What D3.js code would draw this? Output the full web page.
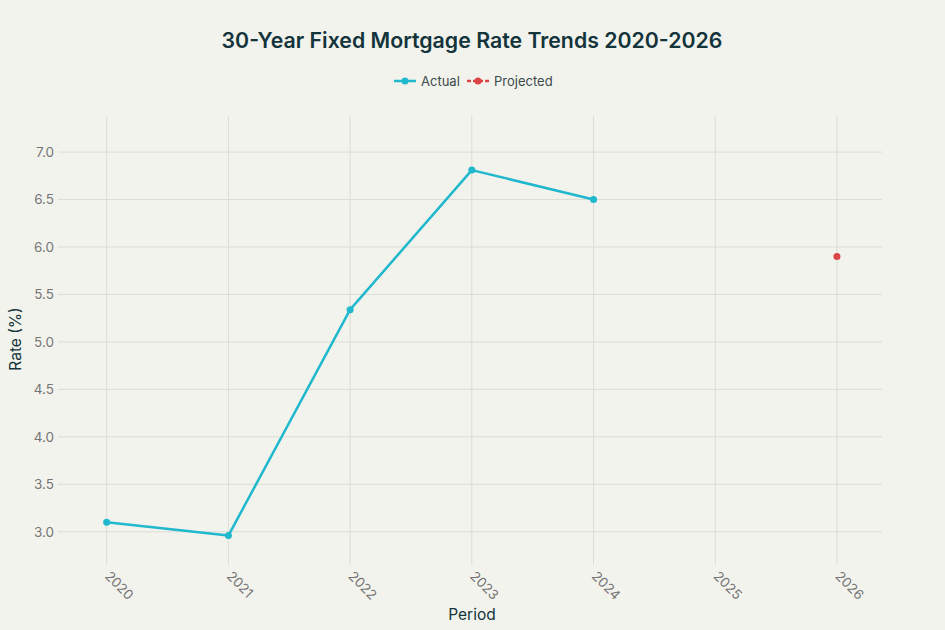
<!DOCTYPE html>
<html><head><meta charset="utf-8">
<script src="https://cdn.jsdelivr.net/npm/d3@7"></script>
<style>
body{margin:0;background:#F3F3EE;}
svg{display:block;font-family:Inter, "Open Sans", sans-serif;}
</style></head>
<body><svg id="c" width="945" height="630"></svg>
<script>
const periods = ["2020","2021","2022","2023","2024","2025","2026"];
const actualValues = [3.10, 2.96, 5.34, 6.81, 6.50, null, null];
const projectedValues = [null, null, null, null, null, null, 5.90];
const yTicks = [3.0, 3.5, 4.0, 4.5, 5.0, 5.5, 6.0, 6.5, 7.0];

const W = 945, H = 630;
const m = {left: 58, right: 63, top: 116, bottom: 65};
const svg = d3.select("#c");
svg.append("rect").attr("width", W).attr("height", H).attr("fill", "#F3F3EE");

const x = d3.scaleLinear().domain([-0.4, periods.length - 1 + 0.37]).range([m.left, W - m.right]);
const y = d3.scaleLinear().domain([2.65, 7.38]).range([H - m.bottom, m.top]);

const g = svg.append("g");
g.selectAll(".vg").data(periods).enter().append("line")
  .attr("x1", (d,i)=>x(i)).attr("x2", (d,i)=>x(i))
  .attr("y1", m.top).attr("y2", H - m.bottom)
  .attr("stroke", "#dcdcd6").attr("stroke-width", 1);
g.selectAll(".hg").data(yTicks).enter().append("line")
  .attr("x1", m.left).attr("x2", W - m.right)
  .attr("y1", d=>y(d)).attr("y2", d=>y(d))
  .attr("stroke", "#dcdcd6").attr("stroke-width", 1);

const yAxis = d3.axisLeft(y).tickValues(yTicks).tickFormat(d3.format(".1f")).tickSize(0).tickPadding(4);
const ya = svg.append("g").attr("transform", `translate(${m.left},0)`).call(yAxis);
ya.select(".domain").remove();
ya.selectAll("text").attr("fill", "#767676").attr("font-size", 13.5).style("font-family", "Inter, sans-serif");

const xAxis = d3.axisBottom(x).tickValues(d3.range(periods.length)).tickFormat(i=>periods[i]).tickSize(0);
const xa = svg.append("g").attr("transform", `translate(0,${H - m.bottom})`).call(xAxis);
xa.select(".domain").remove();
xa.selectAll("text").attr("fill", "#767676").attr("font-size", 13.5).style("font-family", "Inter, sans-serif")
  .attr("text-anchor", "start").attr("dy", null).attr("y", 0)
  .attr("transform", "translate(-3,12) rotate(45)");

const line = d3.line().defined(d=>d!=null).x((d,i)=>x(i)).y(d=>y(d));
svg.append("path").datum(actualValues).attr("d", line)
  .attr("fill", "none").attr("stroke", "#1FB8CD").attr("stroke-width", 2.5).attr("stroke-linejoin", "round");
svg.append("g").selectAll("circle").data(actualValues.map((v,i)=>({v,i})).filter(d=>d.v!=null)).enter()
  .append("circle").attr("cx", d=>x(d.i)).attr("cy", d=>y(d.v)).attr("r", 3.5).attr("fill", "#1FB8CD");
svg.append("path").datum(projectedValues).attr("d", line)
  .attr("fill", "none").attr("stroke", "#DB4545").attr("stroke-width", 2.5).attr("stroke-dasharray", "6,4");
svg.append("g").selectAll("circle").data(projectedValues.map((v,i)=>({v,i})).filter(d=>d.v!=null)).enter()
  .append("circle").attr("cx", d=>x(d.i)).attr("cy", d=>y(d.v)).attr("r", 3.5).attr("fill", "#DB4545");

svg.append("text").attr("x", 472).attr("y", 48).attr("text-anchor", "middle")
  .attr("font-size", 21.3).attr("font-weight", 600).attr("fill", "#13343B")
  .style("font-family", "Inter, sans-serif")
  .text("30-Year Fixed Mortgage Rate Trends 2020-2026");

const leg = svg.append("g").attr("transform", "translate(0,81)");
const items = [{name:"Actual", color:"#1FB8CD", x0:394, dash:null}, {name:"Projected", color:"#DB4545", x0:467, dash:"4,2"}];
items.forEach(it=>{
  leg.append("line").attr("x1", it.x0).attr("x2", it.x0+22).attr("y1",0).attr("y2",0)
    .attr("stroke", it.color).attr("stroke-width", 2.5).attr("stroke-dasharray", it.dash);
  leg.append("circle").attr("cx", it.x0+11).attr("cy", 0).attr("r", 3.5).attr("fill", it.color);
  leg.append("text").attr("x", it.x0+27).attr("y", 4.5).attr("font-size", 13).attr("fill", "#3c4a4c")
    .style("font-family", "Inter, sans-serif").text(it.name);
});

svg.append("text").attr("x", 472).attr("y", 620).attr("text-anchor", "middle")
  .attr("font-size", 15.5).attr("fill", "#13343B").style("font-family", "Inter, sans-serif").text("Period");
svg.append("text").attr("transform", "translate(21,339) rotate(-90)").attr("text-anchor", "middle")
  .attr("font-size", 15.5).attr("fill", "#13343B").style("font-family", "Inter, sans-serif").text("Rate (%)");
</script></body></html>
